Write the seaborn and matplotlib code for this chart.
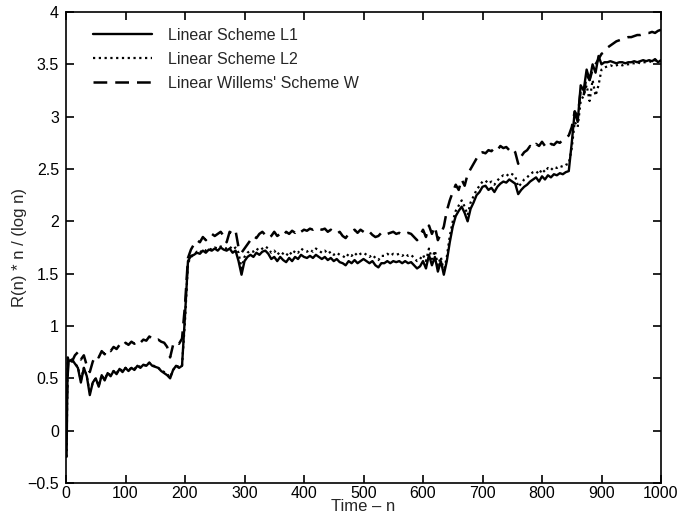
import numpy as np
import pandas as pd
import matplotlib
matplotlib.use("Agg")
import matplotlib.pyplot as plt
from matplotlib.ticker import FuncFormatter, MultipleLocator
import seaborn as sns

# ---- data ----
n_grid = [1, 2, 3] + list(range(5, 1001, 5))

r_l1 = [-0.25, 0.30, 0.70,
        0.66, 0.68, 0.64, 0.60, 0.46, 0.60, 0.52, 0.34, 0.46, 0.50,
        0.42, 0.53, 0.48, 0.55, 0.52, 0.57, 0.54, 0.59, 0.56, 0.60,
        0.57, 0.60, 0.58, 0.62, 0.60, 0.63, 0.62, 0.65, 0.62, 0.61,
        0.60, 0.57, 0.55, 0.53, 0.50, 0.58, 0.62, 0.60, 0.62, 1.10,
        1.62, 1.67, 1.68, 1.70, 1.69, 1.72, 1.70, 1.73, 1.72, 1.74,
        1.72, 1.75, 1.73, 1.72, 1.74, 1.70, 1.72, 1.62, 1.49, 1.62,
        1.66, 1.68, 1.66, 1.70, 1.68, 1.71, 1.72, 1.69, 1.64, 1.66,
        1.62, 1.66, 1.63, 1.61, 1.65, 1.62, 1.66, 1.64, 1.68, 1.66,
        1.65, 1.67, 1.65, 1.68, 1.66, 1.64, 1.66, 1.63, 1.65, 1.62,
        1.64, 1.61, 1.60, 1.58, 1.62, 1.60, 1.63, 1.60, 1.62, 1.64,
        1.62, 1.60, 1.62, 1.58, 1.56, 1.60, 1.60, 1.62, 1.60, 1.62,
        1.61, 1.62, 1.60, 1.62, 1.60, 1.61, 1.58, 1.55, 1.57, 1.62,
        1.55, 1.68, 1.58, 1.66, 1.52, 1.62, 1.49, 1.62, 1.80, 1.95,
        2.05, 2.10, 2.14, 2.08, 2.00, 2.12, 2.18, 2.25, 2.28, 2.33,
        2.34, 2.30, 2.32, 2.28, 2.33, 2.36, 2.38, 2.37, 2.40, 2.38,
        2.36, 2.26, 2.30, 2.33, 2.35, 2.38, 2.40, 2.42, 2.38, 2.43,
        2.40, 2.44, 2.42, 2.45, 2.44, 2.46, 2.45, 2.47, 2.48, 2.75,
        3.05, 2.95, 3.30, 3.25, 3.45, 3.35, 3.50, 3.42, 3.58, 3.50,
        3.52, 3.52, 3.53, 3.52, 3.51, 3.52, 3.52, 3.51, 3.52, 3.52,
        3.53, 3.52, 3.53, 3.54, 3.53, 3.54, 3.53, 3.55, 3.52, 3.54]

r_l2 = [-0.25, 0.32, 0.68,
        0.66, 0.68, 0.64, 0.61, 0.48, 0.60, 0.52, 0.36, 0.46, 0.50,
        0.43, 0.53, 0.49, 0.55, 0.53, 0.57, 0.55, 0.59, 0.57, 0.60,
        0.58, 0.60, 0.59, 0.62, 0.61, 0.63, 0.62, 0.65, 0.63, 0.61,
        0.60, 0.58, 0.56, 0.54, 0.51, 0.58, 0.62, 0.61, 0.62, 1.05,
        1.60, 1.66, 1.68, 1.71, 1.70, 1.73, 1.72, 1.74, 1.73, 1.75,
        1.74, 1.76, 1.75, 1.74, 1.76, 1.73, 1.75, 1.70, 1.55, 1.66,
        1.70, 1.72, 1.71, 1.74, 1.72, 1.74, 1.76, 1.74, 1.70, 1.72,
        1.68, 1.71, 1.69, 1.67, 1.71, 1.68, 1.72, 1.70, 1.74, 1.72,
        1.71, 1.73, 1.71, 1.74, 1.72, 1.70, 1.72, 1.69, 1.71, 1.68,
        1.70, 1.68, 1.67, 1.65, 1.69, 1.67, 1.70, 1.67, 1.69, 1.70,
        1.68, 1.66, 1.68, 1.65, 1.63, 1.67, 1.67, 1.69, 1.67, 1.69,
        1.68, 1.69, 1.67, 1.69, 1.67, 1.68, 1.65, 1.62, 1.64, 1.68,
        1.62, 1.74, 1.64, 1.72, 1.58, 1.66, 1.52, 1.66, 1.86, 2.00,
        2.10, 2.15, 2.20, 2.14, 2.06, 2.18, 2.24, 2.30, 2.34, 2.38,
        2.39, 2.36, 2.38, 2.35, 2.39, 2.42, 2.44, 2.43, 2.46, 2.45,
        2.43, 2.33, 2.36, 2.40, 2.42, 2.45, 2.47, 2.48, 2.45, 2.50,
        2.47, 2.51, 2.49, 2.52, 2.51, 2.53, 2.52, 2.54, 2.55, 2.70,
        2.95, 2.90, 3.15, 3.20, 3.30, 3.15, 3.35, 3.20, 3.30, 3.45,
        3.47, 3.48, 3.49, 3.48, 3.49, 3.50, 3.49, 3.50, 3.50, 3.51,
        3.51, 3.52, 3.51, 3.52, 3.52, 3.53, 3.52, 3.54, 3.53, 3.53]

r_w = [0.10, 0.40, 0.55,
       0.70, 0.66, 0.72, 0.75, 0.68, 0.72, 0.62, 0.56, 0.66, 0.72,
       0.70, 0.76, 0.73, 0.78, 0.76, 0.80, 0.78, 0.82, 0.80, 0.84,
       0.82, 0.85, 0.83, 0.86, 0.84, 0.87, 0.86, 0.90, 0.88, 0.86,
       0.87, 0.85, 0.84, 0.80, 0.70, 0.82, 0.85, 0.83, 0.88, 1.20,
       1.65, 1.73, 1.78, 1.82, 1.80, 1.85, 1.82, 1.86, 1.88, 1.86,
       1.88, 1.90, 1.86, 1.80, 1.90, 1.88, 1.91, 1.75, 1.70, 1.74,
       1.78, 1.82, 1.86, 1.84, 1.88, 1.90, 1.87, 1.84, 1.86, 1.90,
       1.86, 1.88, 1.86, 1.90, 1.88, 1.91, 1.89, 1.92, 1.90, 1.92,
       1.91, 1.93, 1.92, 1.94, 1.93, 1.92, 1.93, 1.90, 1.92, 1.90,
       1.88, 1.90, 1.86, 1.84, 1.88, 1.90, 1.92, 1.89, 1.92, 1.90,
       1.88, 1.90, 1.87, 1.85, 1.86, 1.89, 1.90, 1.88, 1.89, 1.90,
       1.88, 1.89, 1.87, 1.88, 1.89, 1.88, 1.85, 1.82, 1.86, 1.92,
       1.85, 1.96, 1.88, 1.95, 1.82, 1.88, 1.95, 2.10, 2.20, 2.28,
       2.35, 2.30, 2.40, 2.34, 2.45, 2.50, 2.55, 2.60, 2.65, 2.66,
       2.65, 2.68, 2.67, 2.70, 2.68, 2.72, 2.70, 2.71, 2.68, 2.70,
       2.66, 2.55, 2.62, 2.66, 2.68, 2.72, 2.70, 2.74, 2.72, 2.76,
       2.72, 2.70, 2.74, 2.73, 2.76, 2.75, 2.78, 2.80, 2.82, 2.90,
       3.05, 3.00, 3.25, 3.20, 3.40, 3.35, 3.45, 3.50, 3.55, 3.60,
       3.62, 3.66, 3.68, 3.70, 3.72, 3.73, 3.74, 3.75, 3.76, 3.76,
       3.77, 3.78, 3.78, 3.79, 3.80, 3.80, 3.81, 3.80, 3.82, 3.83]

labels = ["Linear Scheme L1", "Linear Scheme L2", "Linear Willems' Scheme W"]
x_ticks = list(range(0, 1001, 100))
y_ticks = [-0.5, 0, 0.5, 1, 1.5, 2, 2.5, 3, 3.5, 4]

assert len(r_l1) == len(n_grid) == len(r_l2) == len(r_w)

# ---- plot ----
sns.set_style("ticks")
plt.rcParams['font.family'] = ['Liberation Sans', 'DejaVu Sans']
plt.rcParams['axes.unicode_minus'] = True

fig = plt.figure(figsize=(6.83, 5.16), dpi=100)
ax = fig.add_axes([66 / 683, 1 - 483 / 516, (661 - 66) / 683, (483 - 12) / 516])

styles = [dict(linestyle='-', linewidth=1.7),
          dict(linestyle=(0, (1, 1.6)), linewidth=1.6),
          dict(linestyle=(0, (5.5, 3.2)), linewidth=1.8)]
for vals, lab, st in zip([r_l1, r_l2, r_w], labels, styles):
    df = pd.DataFrame({"n": n_grid, "r": vals})
    sns.lineplot(data=df, x="n", y="r", ax=ax, color="black", label=lab, **st)

ax.set_xlim(0, 1000)
ax.set_ylim(-0.5, 4)
ax.set_xticks(x_ticks)
ax.set_yticks(y_ticks)
ax.yaxis.set_major_formatter(FuncFormatter(lambda v, p: ("%g" % v).replace("-", "\u2212")))
ax.tick_params(direction='in', length=6, width=1.2, top=True, right=True,
               labelsize=11.5, colors='black', pad=5)
ax.tick_params(axis='x', pad=2)
for s in ax.spines.values():
    s.set_visible(True)
    s.set_linewidth(1.2)
    s.set_color('black')

ax.set_xlabel("Time \u2013 n", fontsize=12, labelpad=-1)
ax.set_ylabel("R(n) * n / (log n)", fontsize=12, labelpad=0)

leg = ax.legend(loc='upper left', frameon=False, fontsize=11.5, handlelength=3.7,
                handletextpad=1.0, labelspacing=0.55, borderaxespad=0.6,
                bbox_to_anchor=(0.018, 1.0))

fig.savefig("out.png", dpi=100)
